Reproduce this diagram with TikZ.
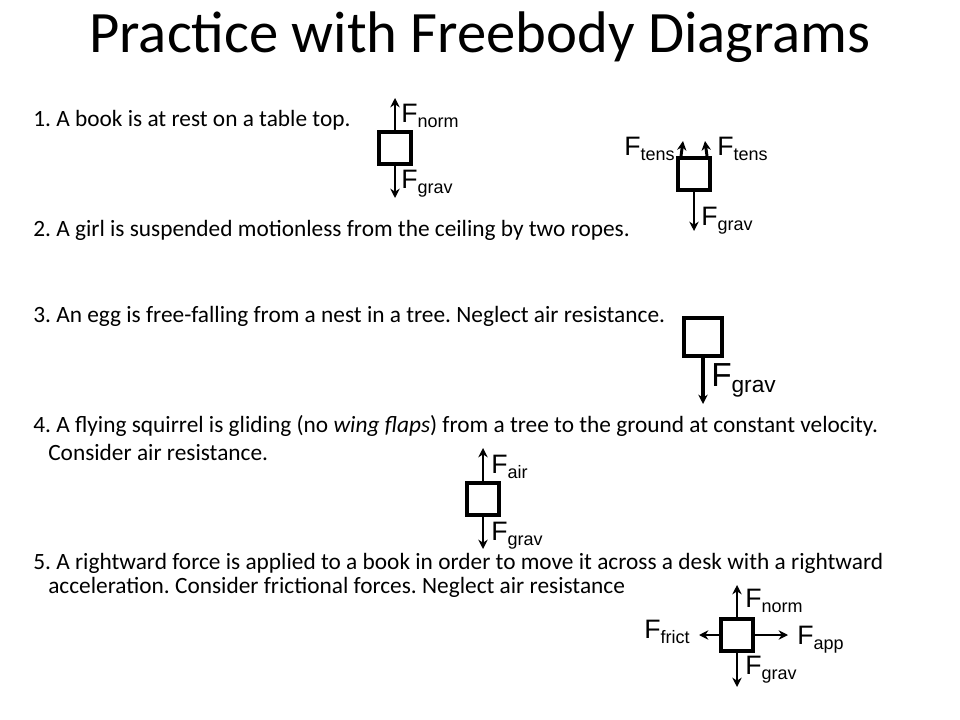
\documentclass[tikz,border=0pt]{standalone}
\usepackage{fontspec}
\usetikzlibrary{arrows.meta}
\setmainfont{Carlito}
\frenchspacing
\newfontfamily\lab{Liberation Sans}
\newcommand{\FF}[1]{{\lab\fontsize{20}{22}\selectfont F\raisebox{-0.35ex}{\fontsize{13.5}{14}\selectfont #1}}}
\newcommand{\FFbig}[1]{{\lab\fontsize{25}{27}\selectfont F\raisebox{-0.35ex}{\fontsize{17}{18}\selectfont #1}}}
\begin{document}
\begin{tikzpicture}[x=0.75pt,y=-0.75pt,
  body/.style={draw,line width=3pt,minimum size=24pt,inner sep=0pt},
  big/.style={draw,line width=3.2pt,minimum size=29pt,inner sep=0pt},
  frc/.style={line width=2.2pt,-{Stealth[length=7pt,width=7pt]}},
  lbl/.style={anchor=west,inner sep=0pt},
  txt/.style={anchor=west,inner sep=0pt,font=\fontsize{17.5}{20}\selectfont}]
\useasboundingbox (0,0) rectangle (960,720);
\node (title) at (480,37) {\fontsize{44}{48}\selectfont Practice with Freebody Diagrams};
\node[txt] (t1) at (33,120) {1. A book is at rest on a table top.};
\node[txt] (t2) at (33,230) {2. A girl is suspended motionless from the ceiling by two ropes.};
\node[txt] (t3) at (33,316) {3. An egg is free-falling from a nest in a tree. Neglect air resistance.};
\node[txt] (t4) at (33,426) {4. A flying squirrel is gliding (no \textit{wing flaps}) from a tree to the ground at constant velocity.};
\node[txt] (t4b) at (48,452) {Consider air resistance.};
\node[txt] (t5) at (33,563) {5. A rightward force is applied to a book in order to move it across a desk with a rightward};
\node[txt] (t5b) at (48,587) {acceleration. Consider frictional forces. Neglect air resistance};
% 1
\node[body] (b1) at (395,148) {};
\coordinate (b1u) at (395,98); \coordinate (b1d) at (395,198);
\draw[frc] (b1.north) -- (b1u); \draw[frc] (b1.south) -- (b1d);
\node[lbl] (l1a) at (401,116) {\FF{norm}};
\node[lbl] (l1b) at (401,184) {\FF{grav}};
% 2
\node[body] (b2) at (694,174) {};
\coordinate (b2a) at (683,141); \coordinate (b2b) at (705,141); \coordinate (b2d) at (694,231);
\draw[frc] (b2.north west) ++(5,0) -- (b2a);
\draw[frc] (b2.north east) ++(-5,0) -- (b2b);
\draw[frc] (b2.south) -- (b2d);
\node[lbl,anchor=east] (l2a) at (675,149) {\FF{tens}};
\node[lbl] (l2b) at (717,149) {\FF{tens}};
\node[lbl] (l2c) at (701,221) {\FF{grav}};
% 3
\node[big] (b3) at (703,337) {};
\coordinate (b3d) at (703,404);
\draw[frc,line width=2.6pt] (b3.south) -- (b3d);
\node[lbl] (l3) at (711,380) {\FFbig{grav}};
% 4
\node[body] (b4) at (483,499) {};
\coordinate (b4u) at (483,448); \coordinate (b4d) at (483,549);
\draw[frc] (b4.north) -- (b4u); \draw[frc] (b4.south) -- (b4d);
\node[lbl] (l4a) at (491,467) {\FF{air}};
\node[lbl] (l4b) at (491,536) {\FF{grav}};
% 5
\node[body] (b5) at (737,635) {};
\coordinate (b5u) at (737,585); \coordinate (b5d) at (737,687);
\coordinate (b5l) at (699,635); \coordinate (b5r) at (788,635);
\draw[frc] (b5.north) -- (b5u); \draw[frc] (b5.south) -- (b5d);
\draw[frc] (b5.west) -- (b5l); \draw[frc] (b5.east) -- (b5r);
\node[lbl] (l5a) at (745,601) {\FF{norm}};
\node[lbl,anchor=east] (l5b) at (690,632) {\FF{frict}};
\node[lbl] (l5c) at (797,640) {\FF{app}};
\node[lbl] (l5d) at (745,670) {\FF{grav}};
\end{tikzpicture}
\end{document}
